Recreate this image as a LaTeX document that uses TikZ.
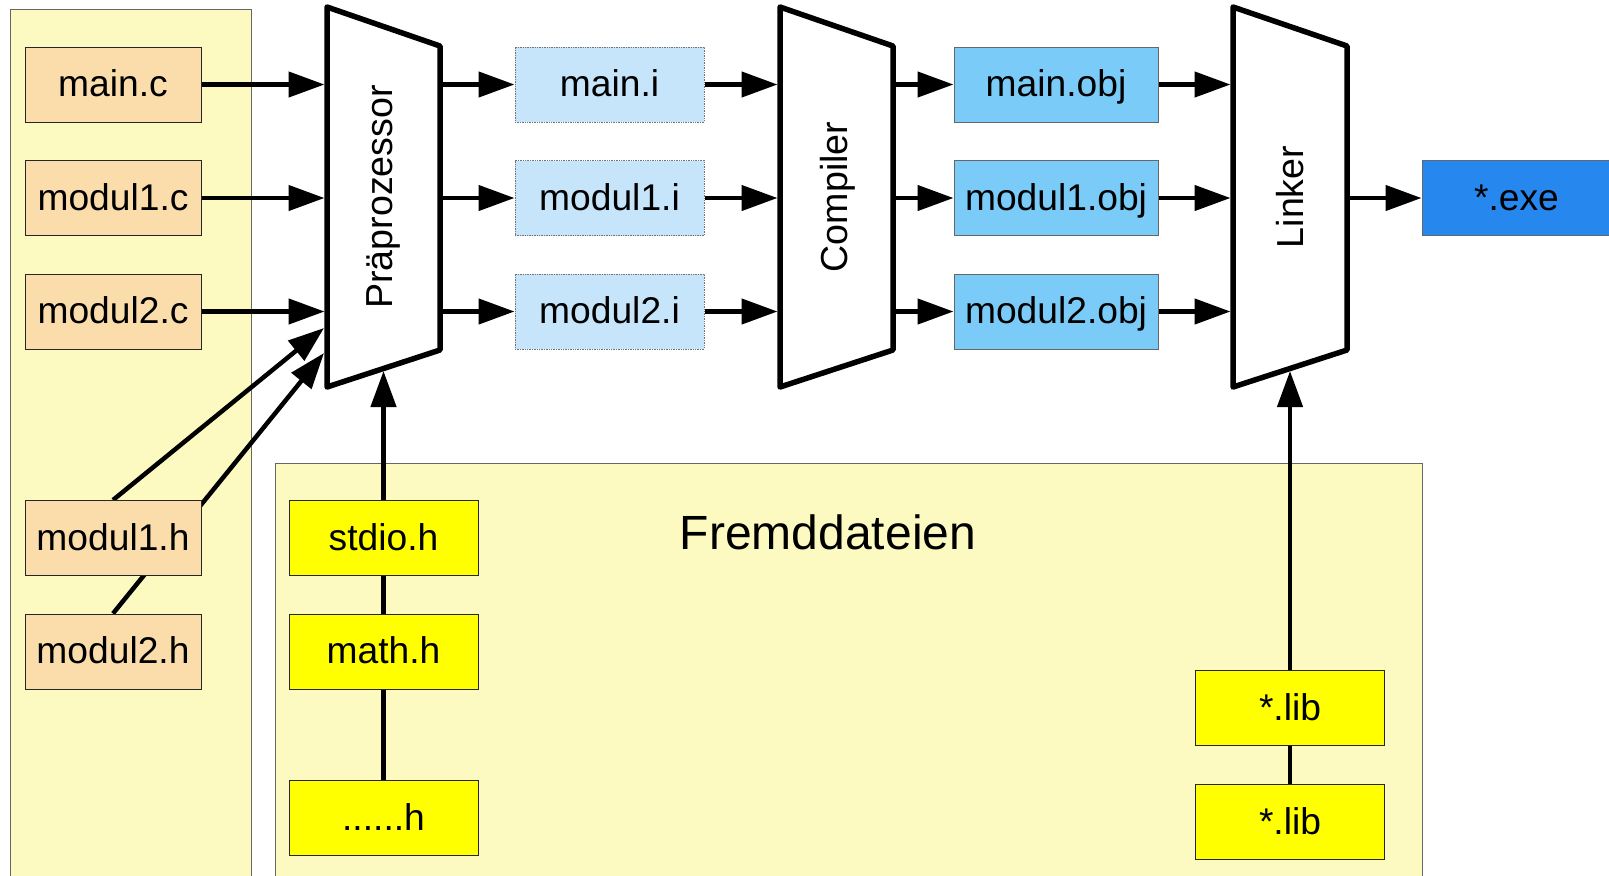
\documentclass[tikz,border=0pt]{standalone}
\usepackage{fontspec}
\setmainfont{Liberation Sans}
\usetikzlibrary{arrows.meta}
\definecolor{panelfill}{HTML}{FCFAC0}
\definecolor{srcfill}{HTML}{FADDAB}
\definecolor{ifill}{HTML}{C6E5FA}
\definecolor{objfill}{HTML}{7ACBF8}
\definecolor{exefill}{HTML}{2687EE}
\definecolor{extfill}{HTML}{FFFF00}
\pgfdeclarelayer{panels}
\pgfdeclarelayer{wires}
\pgfsetlayers{panels,wires,main}
\begin{document}
\begin{tikzpicture}[x=0.5pt,y=-0.5pt,
  box/.style={draw=black!85, line width=0.5pt, minimum width=88pt, minimum height=37.5pt, inner sep=0pt, text height=15pt, text depth=3pt, font=\fontsize{18.6}{22}\selectfont},
  src/.style={box, fill=srcfill},
  ifile/.style={box, fill=ifill, draw=black!55, dash pattern=on 0.7pt off 0.5pt, minimum width=94.5pt},
  obj/.style={box, fill=objfill, draw=black!60, minimum width=102pt},
  exe/.style={box, fill=exefill, draw=black!60, minimum width=94.5pt},
  ext/.style={box, fill=extfill, minimum width=94.5pt},
  arr/.style={line width=2.25pt, -{Triangle[length=18pt,width=12.5pt]}},
  unit/.style={draw=black, fill=white, line width=2.75pt, line join=round},
  unitlabel/.style={rotate=90, font=\fontsize{18.8}{23}\selectfont},
  panel/.style={fill=panelfill, draw=black!60, line width=0.6pt, inner sep=0pt, anchor=north west}]
\useasboundingbox (0,0) rectangle (1609,875);

% panels
\begin{pgfonlayer}{panels}
  \node[panel, minimum width=120.75pt, minimum height=445pt] (srcpanel) at (9.5,9) {};
  \node[panel, minimum width=573.5pt, minimum height=225pt] (extpanel) at (275,463) {};
\end{pgfonlayer}
\node[font=\fontsize{24}{28}\selectfont] (fremd) at (828,532) {Fremddateien};

% processing units
\draw[unit] (327,7) -- (440,46) -- (440,350) -- (327,387) -- cycle;
\node[unitlabel] (pre) at (383.5,197) {Präprozessor};
\draw[unit] (780,7) -- (893,46) -- (893,350) -- (780,387) -- cycle;
\node[unitlabel] (comp) at (838,197) {Compiler};
\draw[unit] (1233,7) -- (1347,46) -- (1347,350) -- (1233,387) -- cycle;
\node[unitlabel] (lnk) at (1290,197) {Linker};

% connection points on the units
\foreach \n/\y in {1/84.5,2/198,3/311.5}{
  \coordinate (pre-in\n) at (324.5,\y);
  \coordinate (pre-out\n) at (440,\y);
  \coordinate (comp-in\n) at (777.5,\y);
  \coordinate (comp-out\n) at (893,\y);
  \coordinate (lnk-in\n) at (1230.5,\y);
}
\coordinate (lnk-out) at (1347,198);
\coordinate (pre-d1) at (324,328);
\coordinate (pre-d2) at (324,353);
\coordinate (pre-bot) at (383.5,371);
\coordinate (lnk-bot) at (1290,371);

% files
\node[src] (mainc) at (113,84.5) {main.c};
\node[src] (mod1c) at (113,198) {modul1.c};
\node[src] (mod2c) at (113,311.5) {modul2.c};
\node[src] (mod1h) at (113,538) {modul1.h};
\node[src] (mod2h) at (113,651.5) {modul2.h};

\node[ifile] (maini) at (609.5,84.5) {main.i};
\node[ifile] (mod1i) at (609.5,198) {modul1.i};
\node[ifile] (mod2i) at (609.5,311.5) {modul2.i};

\node[obj] (mainobj) at (1056,84.5) {main.obj};
\node[obj] (mod1obj) at (1056,198) {modul1.obj};
\node[obj] (mod2obj) at (1056,311.5) {modul2.obj};

\node[exe] (exe) at (1516.5,198) {*.exe};

\node[ext] (stdio) at (383.5,538) {stdio.h};
\node[ext] (math) at (383.5,651.5) {math.h};
\node[ext] (dots) at (383.5,818) {......h};
\node[ext] (lib1) at (1290,708) {*.lib};
\node[ext] (lib2) at (1290,822) {*.lib};

% connectors
\begin{pgfonlayer}{wires}
  \draw[arr] (mainc.east) -- (pre-in1);
  \draw[arr] (mod1c.east) -- (pre-in2);
  \draw[arr] (mod2c.east) -- (pre-in3);
  \draw[arr] (mod1h.north) -- (pre-d1);
  \draw[arr] (mod2h.north) -- (pre-d2);
  \draw[arr] (dots.north) -- (pre-bot);

  \draw[arr] (pre-out1) -- (maini.west);
  \draw[arr] (pre-out2) -- (mod1i.west);
  \draw[arr] (pre-out3) -- (mod2i.west);

  \draw[arr] (maini.east) -- (comp-in1);
  \draw[arr] (mod1i.east) -- (comp-in2);
  \draw[arr] (mod2i.east) -- (comp-in3);

  \draw[arr] (comp-out1) -- (mainobj.west);
  \draw[arr] (comp-out2) -- (mod1obj.west);
  \draw[arr] (comp-out3) -- (mod2obj.west);

  \draw[arr] (mainobj.east) -- (lnk-in1);
  \draw[arr] (mod1obj.east) -- (lnk-in2);
  \draw[arr] (mod2obj.east) -- (lnk-in3);

  \draw[arr] (lnk-out) -- (exe.west);
  \draw[arr] (lib2.north) -- (lnk-bot);
\end{pgfonlayer}
\end{tikzpicture}
\end{document}
